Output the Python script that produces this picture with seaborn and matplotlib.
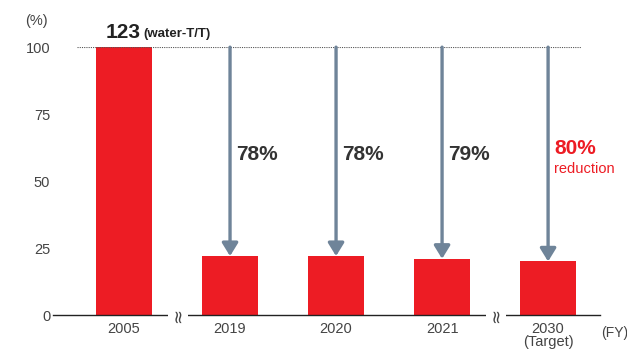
import matplotlib.pyplot as plt
import numpy as np
import pandas as pd
import seaborn as sns

# Data
years = ['2005', '2019', '2020', '2021', '2030']
tick_labels = ['2005', '2019', '2020', '2021', '2030\n(Target)']
values = [100, 22, 22, 21, 20]
reductions = ['', '78%', '78%', '79%', '80%']

df = pd.DataFrame({'year': years, 'value': values})

sns.set_theme(style='white')
plt.rcParams['font.family'] = ['Liberation Sans Narrow', 'Liberation Sans', 'DejaVu Sans']

red = '#ed1c24'
arrow_col = '#6f8499'
text_col = '#444444'

fig = plt.figure(figsize=(6.27, 3.52), dpi=100)
ax = fig.add_axes([0.0845, 0.105, 0.8725, 0.761])

sns.barplot(x='year', y='value', data=df, ax=ax, color=red,
            width=0.53, saturation=1, edgecolor='none')

ax.set_xlim(-0.67, 4.49)
ax.set_ylim(0, 100)
ax.set_yticks([0, 25, 50, 75, 100])
ax.set_xticks(range(len(years)))
ax.set_xticklabels(tick_labels, color=text_col, fontsize=10.5, linespacing=0.95)
ax.tick_params(axis='y', labelcolor=text_col, labelsize=10.5, length=0, pad=2)
ax.tick_params(axis='x', length=0, pad=5)
ax.set_xlabel('')
ax.set_ylabel('')
for s in ['left', 'right', 'top']:
    ax.spines[s].set_visible(False)
ax.spines['bottom'].set_color('#222222')
ax.spines['bottom'].set_linewidth(1.0)

# dotted baseline at 100
ax.axhline(100, xmin=0.043, xmax=0.965, color='#555555', lw=0.8,
           ls=(0, (1, 1)), zorder=1)

# arrows from 100 down to each later bar
for i in range(1, len(values)):
    ax.annotate('', xy=(i, values[i]), xytext=(i, 100),
                arrowprops=dict(arrowstyle='-|>,head_width=0.4,head_length=0.65',
                                color=arrow_col, lw=2.4, shrinkA=0, shrinkB=0),
                zorder=3)

for i in range(1, len(values) - 1):
    ax.text(i + 0.06, 60, reductions[i], fontsize=15, fontweight='bold',
            color='#333333', ha='left', va='center')

ax.text(4.06, 62, reductions[4], fontsize=15, fontweight='bold',
        color=red, ha='left', va='center')
ax.text(4.06, 57, 'reduction', fontsize=10.5, color=red, ha='left', va='top')

# label above the 2005 bar
ax.text(-0.17, 102, '123', fontsize=15, fontweight='bold', color='#222222',
        ha='left', va='bottom')
ax.text(0.18, 102.5, '(water-T/T)', fontsize=9.5, fontweight='bold',
        color='#222222', ha='left', va='bottom')

ax.text(-0.72, 107, '(%)', fontsize=10.5, color=text_col, ha='right',
        va='bottom', clip_on=False)
ax.text(4.5, -4, '(FY)', fontsize=10, color=text_col, ha='left',
        va='top', clip_on=False)

# axis break marks
for xb in [0.51, 3.51]:
    ax.text(xb, 0, '≈', fontsize=13, rotation=90, color='#444444',
            family='DejaVu Sans', ha='center', va='center', clip_on=False,
            bbox=dict(boxstyle='square,pad=0.05', fc='white', ec='none'))

fig.savefig('out.png', dpi=100)
